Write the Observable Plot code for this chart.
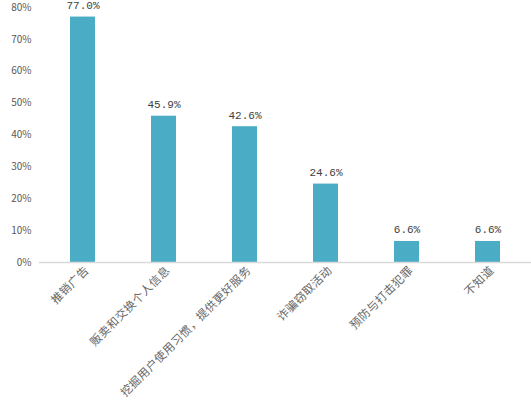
<!DOCTYPE html>
<html><head><meta charset="utf-8">
<script src="https://cdn.jsdelivr.net/npm/d3@7"></script>
<script src="https://cdn.jsdelivr.net/npm/@observablehq/plot@0.6"></script>
<style>body{margin:0;background:#fff;} svg{display:block;}</style>
</head><body><div id="chart"></div>
<script>
const categories = ["推销广告","贩卖和交换个人信息","挖掘用户使用习惯，提供更好服务","诈骗窃取活动","预防与打击犯罪","不知道"];
const values = [0.770, 0.459, 0.426, 0.246, 0.066, 0.066];
const yTicks = [0,0.1,0.2,0.3,0.4,0.5,0.6,0.7,0.8];
const data = categories.map((c,i)=>({c, v: values[i]}));
const chart = Plot.plot({
  width: 531, height: 400,
  marginLeft: 39, marginRight: 0, marginTop: 7, marginBottom: 138,
  style: {fontFamily: "'Noto Sans CJK SC', sans-serif", background: "#fff", color: "#595959"},
  x: {domain: categories, paddingInner: 0.695, paddingOuter: 0.35, align: 0.5, label: null, tickRotate: -45, tickSize: 0, tickPadding: 6},
  y: {domain: [0, 0.8], ticks: yTicks, tickFormat: d3.format(".0%"), label: null, tickSize: 0, tickPadding: 8},
  marks: [
    Plot.barY(data, {x: "c", y: "v", fill: "#4bacc6"}),
    Plot.ruleY([0], {stroke: "#d9d9d9", strokeWidth: 1.5}),
    Plot.text(data, {x: "c", y: "v", text: d => (d.v*100).toFixed(1) + "%", dy: -8, lineAnchor: "bottom", fill: "#404040", fontSize: 11, fontFamily: "'Liberation Mono', monospace"})
  ]
});
const xl = chart.querySelector('g[aria-label="x-axis tick label"]');
if (xl) {
  xl.setAttribute("font-size", "11.5"); xl.setAttribute("fill", "#666"); xl.setAttribute("letter-spacing", "0.4");
  const tr = xl.getAttribute("transform") || "";
  xl.setAttribute("transform", "translate(4,0) " + tr);
}
const yl = chart.querySelector('g[aria-label="y-axis tick label"]');
if (yl) { yl.setAttribute("font-size", "10"); }
document.getElementById("chart").appendChild(chart);
</script></body></html>
